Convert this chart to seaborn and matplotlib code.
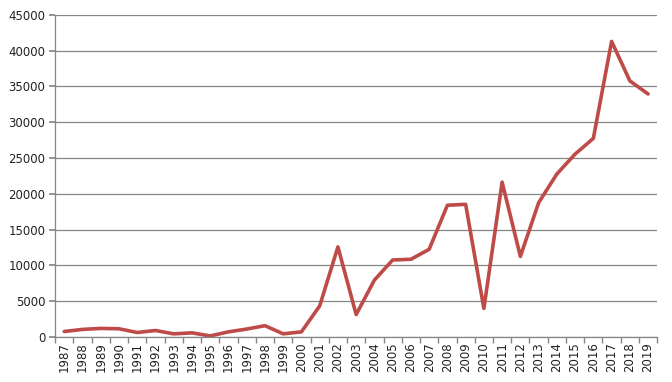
import matplotlib
matplotlib.use("Agg")
import matplotlib.pyplot as plt
import seaborn as sns
import pandas as pd
import numpy as np

years = list(range(1987, 2020))
values = [760, 1050, 1190, 1140, 620, 900, 430, 570, 140, 710, 1100, 1570, 430, 710,
          4330, 12580, 3130, 7940, 10750, 10850, 12240, 18400, 18530, 3980, 21630, 11250,
          18750, 22770, 25550, 27750, 41300, 35780, 33950]
yticks = list(range(0, 45001, 5000))

df = pd.DataFrame({"year": years, "value": values})

sns.set_theme(style="white")
plt.rcParams['font.family'] = ['DejaVu Sans']

fig = plt.figure(figsize=(6.72, 3.82), dpi=100)
ax = fig.add_axes([0.082, 0.118, 0.896, 0.843])

sns.lineplot(data=df, x="year", y="value", ax=ax, color="#BE4B48", linewidth=2.6)

ax.set_xlim(years[0] - 0.5, years[-1] + 0.5)
ax.set_ylim(0, 45000)
ax.set_yticks(yticks)
ax.set_yticklabels([str(v) for v in yticks], fontsize=8.5, color="#222222")
ax.set_xticks(years)
ax.set_xticklabels([str(y) for y in years], rotation=90, fontsize=8.5, color="#222222")
ax.set_xticks([y + 0.5 for y in [years[0] - 1] + years], minor=True)
ax.tick_params(axis='x', which='major', length=0, pad=4)
ax.tick_params(axis='x', which='minor', length=4, color="#868686", bottom=True)
ax.tick_params(axis='y', which='major', length=4, color="#868686", left=True, pad=3)
ax.yaxis.grid(True, color="#868686", linewidth=0.9)
ax.xaxis.grid(False)
ax.set_axisbelow(True)
for s in ["top", "right"]:
    ax.spines[s].set_visible(False)
for s in ["left", "bottom"]:
    ax.spines[s].set_color("#868686")
    ax.spines[s].set_linewidth(0.9)
ax.set_xlabel("")
ax.set_ylabel("")

fig.savefig("out.png", dpi=100)
